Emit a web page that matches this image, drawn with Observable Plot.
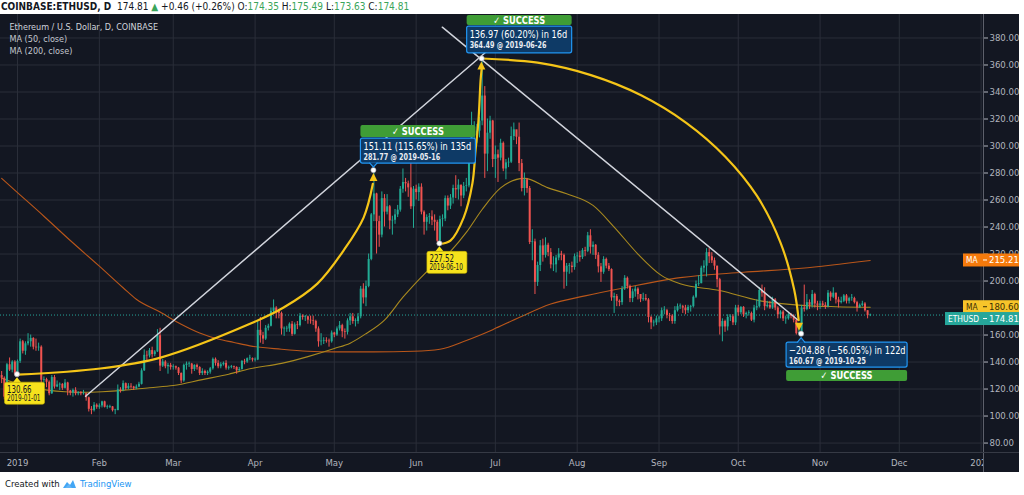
<!DOCTYPE html>
<html><head><meta charset="utf-8">
<script src="https://cdn.jsdelivr.net/npm/d3@7"></script>
<script src="https://cdn.jsdelivr.net/npm/@observablehq/plot@0.6"></script>
<style>
html,body{margin:0;padding:0;background:#fff;}
body{width:1024px;height:495px;overflow:hidden;font-family:"Liberation Sans Narrow","DejaVu Sans Condensed","Liberation Sans",sans-serif;}
#hdr{height:14px;font-size:10px;line-height:13px;color:#131722;white-space:nowrap;padding-left:1px;}
#hdr .g{color:#3aa55a}
#chart{height:458px;}
#chart svg{display:block}
#ftr{height:23px;font-size:9.5px;color:#131722;display:flex;align-items:center;padding-left:5px;white-space:nowrap}
#ftr .tv{color:#2196f3}
</style></head><body>
<div id="hdr"></div>
<div id="chart"></div>
<div id="ftr">Created with&nbsp;<svg width="15" height="10" viewBox="0 0 15 10"><path d="M1 9 L5 3 L8 6 L11 1 L14 9 Z" fill="#2196f3" opacity="0.85"/><path d="M3 9 L7 5 L10 9 Z" fill="#64b5f6"/></svg>&nbsp;<span class="tv">TradingView</span></div>
<script>
// ---------------- DATA ----------------
const symbol = "COINBASE:ETHUSD, D";
const firstOpen = 130;          // open of 2018-12-26
const startDay = -6;            // day index of first candle (0 = 2019-01-01)
// daily closes, 2018-12-26 .. 2019-11-20
const close = [
 128,114,138,134,140,131, // Dec
 140.5,155,148,153.5,155,157.5,151,150.5,151,126.5,127,125,116.5,128.5,121.5,123,123.5,120.5,124.5,118.5,117,119,116.5,117.5,116.5,116.5,113.5,105,104,108,106.5, // Jan
 107.5,110.5,106.5,106.5,106.8,104,104,119.5,119,124,120.3,122,121.5,120.3,121.5,123.5,133.5,145,144.5,148.5,145.5,147.5,159.5,137,140,136.5,137.5,136, // Feb
 136.5,135.5,131.5,126,137.5,138.5,138.5,134.5,137.5,136,131.5,133,131.5,132.5,135,142,139,136.5,138,139,135.5,136,136.5,136,133.5,134.5,140.5,140,142.5,142.5,141.5, // Mar
 141.5,163.5,159.5,157,165,166.5,177.5,180,177.5,176,164.5,164.5,164.5,168,160.5,167.5,167,174,173,173.5,171,170.5,170,164.5,155,155.5,156,155.5,155,161.5, // Apr
 160,164.5,167,162.5,162,170.5,173.5,170,170,173.5,194,187.5,196,216,249,264.5,244,234,261,251,255,244.5,245,249,252.5,268,273,272,269,255,268, // May
 265.5,269.5,251,243.5,247,247.5,245,243.5,229.5,245.5,246,261,255.5,261.5,268.5,267.5,271,263,270,270.5,294,307.5,308.5,311,318.5,337,294,309.5,318.5,290, // Jun
 293.5,291,302,283,287.5,288,307,312,306.5,287,268.5,275,268.5,228.5,229,199,211.5,226,219,226.5,221,212,212,217,220,219,206.5,211,211,210,218, // Jul
 218.5,217.5,222.5,222,233.5,225,226.5,219,210.5,206.5,216,211,208.5,187.5,188.5,185,184,194,202,196,187,192,194,190,186.5,187,186,173,169,169,172, // Aug
 172,178,178,174.5,174,170,178,181,181,180,178,180.5,181,188,197.5,198,209.5,211,221,218,215,211,201,166,170,166,173,173.5,169,180, // Sep
 176.5,180.5,175,176,176,171,180,181,193,191,181,182,180,186,180,175,177,172,172,175,174,171,161,161.5,180,179,184,182,190,183,182, // Oct
 183,182,181,191,188,191,186,184,185,189,185,187,187,184,180,182,183,178,174.35,174.81 // Nov
];
const high = [
 133,129,139,143,141,141,
 141.5,157,156,155,161,160,158,157,154,152,129,128,126,130,130,126,124.5,124,127,125,119,120,121,118,118,119,117,114,107,110,109,
 109,111,111,108,108,107,105,123,121,126,124.5,124,124,122,123,125,135,149,148,150,151,148.5,164,165,142,141,139,139,
 138,137,136,132,138.5,140,140,139,138,138.5,136.5,135,134,133.5,136,143,143,141,139.5,140,141,137,137.5,137,136.5,136,141,142,143,145,143,
 143,170,173,162,167,168,180,186,181,179,177,166,166.5,169,170,169,170,176,175,174.5,174,174,174,171,166,161,158,158,157,163,
 162,166,170,168,164.5,172,176,176,172,176,196,198,200,220,250,281.8,265,248,266,264,264,256,248,253,256,270,283,276,274,287,270,
 271,272,272,252,249,250,252,249,245,248,249,263,263,264,271,278,275,271,273,276,297,325,318,316,321,364.5,344,320,322,319,
 300,297,305,303,290,291,314,317,311,317,290,280,276,270,238,231,214,230,231,232,228,224,218,219,224,222,220,213,213,214,220,
 221,222,224,225,236,238,229,227,221,213,218,217,213,209,191,190,186,196,204,203,197,194,196,195,190,191,190,187,174,171,174,
 174,180,181,179,176,175,181,183,183,182,182,182,182,189,200,204,211,215,224,224,221,217,211,202,172,171,175,175,175,182,
 182,181,181,177,178,177,182,186,195,197,195,185,185,188,187,181,178,178,174,176,176,175,172,164,182,197,190,186,193,191,185,
 185,185,184,193,192,195,191,188,188,190,190,188,190,188,185,183,185,184,178,175.49
];
const low = [
 124,112,112,133,132,130,
 130.7,139,146,145,152,151,149,148,148,123,122,121,115,116,120,121,119,119,120,115,115,114,115,115,115,115.5,111,103,101,103,105,
 105,106,106,105,105.5,103,101,104,117,118,119,119.5,120,119,119.5,121,123,133,140,143,143,144,147,133,136,135,131,134,
 134,134,130,124,125,134,136,131,133,134,130,130,130,130,131,134,137,135,135,137,134,134,135,134.5,131,133,134,138,139,141,140,
 140,141,154,153,156,163,166,176,172,172,160,159,162,162,159,160,164,166,171,170,168,168,167,162,151,152,153,154,151,154,
 158,159,163,158,157,160,167,168,166,168,172,183,181,195,215,244,220,225,232,240,249,238,234,242,247,251,265,266,262,253,239,
 260,259,249,234,237,242,241,237,228.5,227.5,240,244,252,253,257,261,260,255,261,266,269,288,300,302,306,315,276,281,305,284,
 276,273,289,281,275,284,287,304,301,281,266,263,265,227,215,190,196,207,214,217,218,209,207,206,215,215,194,196,205,206,208,
 213,214,216,218,221,220,219,216,206,199,205,209,207,185,176,181,181,182,193,194,184,184,188,186,184,185,185,169,164,166,167,
 169,170,175,172,170,168,168,177,179,176,175,176,177,180,187,196,198,206,203,213,213,208,195,160,155,162,163,170,167,167,
 174,175,173,172,174,170,169,178,180,188,178,180,179,179,178,172,172,170,168,171,172,169,160,160.8,160.67,177,178,179,180,180,178,
 179,181,179,180,185,187,183,180,183,184,183,183,185,183,177,180,181,177,172,173.63
];
// moving averages (day index, value)
const ma50Days = [-6,0,6,12,18,25,32,40,50,59,70,80,88,100,110,120,126,132,139,146,154,164,170,176,183,192,201,208,218,226,235,244,251,266,281,297,310,323];
const ma50Vals = [128,124,121,119,118,117.6,118,119,121,122.6,127,131,135,139,144,150,154,161,171,188,205,222,236,253,269,276,269,264.6,256,240,220,204,198,193,185.5,182,181,180.6];
const ma200Days = [-6,0,10,20,31,40,45,54,62,69,76,82,88,100,110,120,135,150,160,170,180,190,202,215,230,251,275,297,323];
const ma200Vals = [276,265.5,248,230,211,195,186.5,177,168,161.5,157,154.5,152,149.5,148,147.5,147.5,148,149.5,156,164,173,183,189,195,202.5,206.5,209.5,215.2];
const ma50Last = 180.60, ma200Last = 215.21, lastPrice = 174.81;
// axes
const priceTicks = [80,100,120,140,160,180,200,220,240,260,280,300,320,340,360,380];
const monthDays = [0,31,59,90,120,151,181,212,243,273,304,334,365];
const monthLabels = ["2019","Feb","Mar","Apr","May","Jun","Jul","Aug","Sep","Oct","Nov","Dec","2020"];
// drawings (day index, price)
const trendA = {days:[25.8,180.3], prices:[114.7,374.4]};
const trendB = {days:[160.9,295.5], prices:[388,171.3]};
const curve1 = {days:[0,31.4,54.2,88.3,100.8,113.6,123.5,131.1,134.6], prices:[130.66,135.2,143.3,168.5,180.4,198.1,222.6,247,272]};
const curve2 = {days:[160,164,169,172.3,173.5,174.6,175.4,175.8], prices:[227.52,230,247,272.2,296.7,318.9,348.5,357]};
const curve3 = {days:[176.1,197.0,217.2,236.2,253.3,268.1,280.1,289.0,294.2,295.9], prices:[364.8,361.7,352.5,337.6,317.2,292.1,263.0,228.5,193.5,171]};
const pivotDays = [0,135,160,176,297];
const pivotPrices = [130.66,281.77,227.52,364.49,160.67];
const pivotDates = ["2019-01-01","2019-05-16","2019-06-10","2019-06-26","2019-10-25"];
const moveText = ["151.11 (115.65%) in 135d","136.97 (60.20%) in 16d","\u2212204.88 (\u221256.05%) in 122d"];

// ---------------- HEADER ----------------
const n = close.length;
const lastO = close[n-2], lastC = close[n-1], lastH = high[n-1], lastL = low[n-1];
const chg = lastC - lastO;
document.getElementById("hdr").innerHTML =
  `<b>${symbol}</b>&nbsp; ${lastC.toFixed(2)} <span class="g">\u25B2</span> +${chg.toFixed(2)} (+${(chg/lastO*100).toFixed(2)}%) ` +
  `O:<span class="g">${lastO.toFixed(2)}</span> H:<span class="g">${lastH.toFixed(2)}</span> L:<span class="g">${lastL.toFixed(2)}</span> C:<span class="g">${lastC.toFixed(2)}</span>`;

// ---------------- TABLES ----------------
const candles = close.map((c, i) => ({day: startDay + i, o: i ? close[i-1] : firstOpen, h: high[i], l: low[i], c}));
const UP = "#22ab94", DOWN = "#f05350";
candles.forEach(d => { d.col = d.c >= d.o ? UP : DOWN; d.c2 = Math.abs(d.c - d.o) < 0.5 ? d.o + 0.5 : d.c; });
const pts = (days, vals) => days.map((d, i) => ({day: d, v: vals[i]}));
const ma50 = pts(ma50Days, ma50Vals), ma200 = pts(ma200Days, ma200Vals);
const tA = pts(trendA.days, trendA.prices), tB = pts(trendB.days, trendB.prices);
const c1 = pts(curve1.days, curve1.prices), c2 = pts(curve2.days, curve2.prices), c3 = pts(curve3.days, curve3.prices);
const pivots = pts(pivotDays, pivotPrices);

const FONT = '"Liberation Sans Narrow","DejaVu Sans Condensed","Liberation Sans",sans-serif';
const GRID = "#2a2e39", YEL = "#f5c518";
const W = 1019, H = 458, MR = 36, MB = 20;

const chart = Plot.plot({
  width: W, height: H,
  marginLeft: 0, marginRight: MR, marginTop: 0, marginBottom: MB,
  style: {background: "#131722", color: "#b2b5be", fontFamily: FONT, fontSize: "9.5px"},
  x: {domain: [-6.44, 365.9], ticks: monthDays, tickFormat: d => monthLabels[monthDays.indexOf(d)], tickSize: 0, tickPadding: 7, label: null},
  y: {domain: [73.0, 397.4], axis: "right", ticks: priceTicks, tickFormat: d => d.toFixed(2), tickSize: 4, tickPadding: 2, label: null},
  marks: [
    Plot.ruleY(priceTicks, {stroke: GRID, strokeWidth: 1}),
    Plot.ruleX(monthDays, {stroke: GRID, strokeWidth: 1}),
    Plot.line(ma200, {x: "day", y: "v", stroke: "#b9561a", strokeWidth: 1.1, curve: "monotone-x"}),
    Plot.line(ma50, {x: "day", y: "v", stroke: "#a8891f", strokeWidth: 1.1, curve: "monotone-x"}),
    Plot.ruleY([lastPrice], {stroke: "#26a69a", strokeWidth: 1, strokeDasharray: "1,2"}),
    Plot.ruleX(candles, {x: "day", y1: "l", y2: "h", stroke: "col", strokeWidth: 1}),
    Plot.ruleX(candles, {x: "day", y1: "o", y2: "c2", stroke: "col", strokeWidth: 2}),
    Plot.line(tA, {x: "day", y: "v", stroke: "#d1d4dc", strokeWidth: 1.5}),
    Plot.line(tB, {x: "day", y: "v", stroke: "#d1d4dc", strokeWidth: 1.5}),
    Plot.line(c1, {x: "day", y: "v", stroke: YEL, strokeWidth: 2.2, curve: "catmull-rom"}),
    Plot.line(c2, {x: "day", y: "v", stroke: YEL, strokeWidth: 2.2, curve: "catmull-rom"}),
    Plot.line(c3, {x: "day", y: "v", stroke: YEL, strokeWidth: 2.2, curve: "catmull-rom"}),
    Plot.text(["Ethereum / U.S. Dollar, D, COINBASE"], {frameAnchor: "top-left", lineAnchor: "middle", textAnchor: "start", dx: 9, dy: 12.7, fill: "#d1d4dc", fontSize: 9}),
    Plot.text(["MA (50, close)"], {frameAnchor: "top-left", lineAnchor: "middle", textAnchor: "start", dx: 9, dy: 25, fill: "#c3c6ce", fontSize: 9}),
    Plot.text(["MA (200, close)"], {frameAnchor: "top-left", lineAnchor: "middle", textAnchor: "start", dx: 9, dy: 37, fill: "#c3c6ce", fontSize: 9})
  ]
});
document.getElementById("chart").appendChild(chart);

// ---------------- OVERLAYS (positions via Plot scales) ----------------
const sx = chart.scale("x"), sy = chart.scale("y");
const X = sx.apply ? v => sx.apply(v) : d3.scaleLinear(sx.domain, sx.range);
const Y = sy.apply ? v => sy.apply(v) : d3.scaleLinear(sy.domain, sy.range);
const svg = d3.select(chart);
const PR = W - MR, PB = H - MB;
// condense a text to a fraction of its natural width (the chart uses a narrow face)
function squeeze(sel, k) {
  const node = sel.node();
  const L = node.getComputedTextLength();
  if (L > 0) sel.attr("textLength", (L * k).toFixed(1)).attr("lengthAdjust", "spacingAndGlyphs");
  return sel;
}
// hide label overflow below the price scale, draw borders
svg.append("rect").attr("x", PR).attr("y", PB + 0.5).attr("width", MR).attr("height", MB).attr("fill", "#131722");
svg.append("line").attr("x1", PR + 0.5).attr("x2", PR + 0.5).attr("y1", 0).attr("y2", H).attr("stroke", "#5d606b");
svg.append("line").attr("x1", 0).attr("x2", W).attr("y1", PB + 0.5).attr("y2", PB + 0.5).attr("stroke", "#363a45");

// arrow heads
function tri(x, y, dir) { // tip at (x,y); dir -1 = up, +1 = down
  const h = 8 * -dir, w = 4;
  svg.append("path").attr("d", `M${x},${y} L${x - w},${y + h} L${x + w},${y + h} Z`).attr("fill", YEL);
}
tri(X(135), Y(281.77) + 3, -1);
tri(X(175.9), Y(364.49) + 3, -1);
tri(X(296.2), Y(160.67) - 3, 1);

// pivot dots
pivots.forEach(p => svg.append("circle").attr("cx", X(p.day)).attr("cy", Y(p.v)).attr("r", 2.6).attr("fill", "#fff").attr("stroke", "#9598a1").attr("stroke-width", 0.6));

// price tags on the scale
function tag(y, x0, bg, fg, name, val) {
  const g = svg.append("g").attr("font-family", FONT).attr("font-size", 9.5).attr("text-anchor", "start");
  g.append("rect").attr("x", x0).attr("y", y - 6.5).attr("width", W - x0).attr("height", 13).attr("fill", bg);
  squeeze(g.append("text").attr("x", x0 + 3).attr("y", y).attr("dy", "0.35em").attr("fill", fg).text(name), 0.88);
  g.append("line").attr("x1", PR).attr("x2", PR + 4).attr("y1", y).attr("y2", y).attr("stroke", fg);
  g.append("text").attr("x", PR + 6).attr("y", y).attr("dy", "0.35em").attr("fill", fg).text(val.toFixed(2));
}
tag(Y(ma200Last), 963, "#f57a0c", "#fff", "MA", ma200Last);
tag(Y(ma50Last), 963, "#f7c42a", "#3a2e05", "MA", ma50Last);
tag(Y(lastPrice) + 4, 945, "#26a69a", "#fff", "ETHUSD", lastPrice);

// success annotations
function success(i, k, o) {
  const ax = X(pivotDays[i]), ay = Y(pivotPrices[i]);
  const g = svg.append("g").attr("font-family", FONT).attr("text-anchor", "start");
  const x0 = ax + o.x0, w = o.x1 - o.x0;
  g.append("rect").attr("x", x0).attr("y", ay + o.g0).attr("width", w).attr("height", o.g1 - o.g0).attr("rx", 2).attr("fill", "#3f9d36");
  squeeze(g.append("text").attr("x", x0 + w / 2).attr("y", ay + (o.g0 + o.g1) / 2).attr("dy", "0.36em").attr("text-anchor", "middle")
    .attr("fill", "#fff").attr("font-weight", "bold").attr("font-size", 10.5).text("\u2713 SUCCESS"), 0.88);
  g.append("rect").attr("x", x0).attr("y", ay + o.b0).attr("width", w).attr("height", o.b1 - o.b0).attr("rx", 2)
    .attr("fill", "#0e3a66").attr("stroke", "#2196f3").attr("stroke-width", 1.2);
  if (o.ptr) g.append("path").attr("d", o.ptr(ax, ay)).attr("fill", "#0e3a66").attr("stroke", "#2196f3").attr("stroke-width", 1.2);
  squeeze(g.append("text").attr("x", x0 + 3).attr("y", ay + o.b0 + 8).attr("dy", "0.35em").attr("fill", "#fff").attr("font-size", 10.5).text(moveText[k]), 0.87);
  squeeze(g.append("text").attr("x", x0 + 3).attr("y", ay + o.b0 + 18.5).attr("dy", "0.35em").attr("fill", "#e8ecf2").attr("font-size", 8.5).attr("font-weight", "bold")
    .text(`${pivotPrices[i].toFixed(2)} @ ${pivotDates[i]}`), 0.84);
}
success(1, 0, {x0: -13, x1: 102, g0: -45, g1: -33, b0: -32, b1: -7,
  ptr: (x, y) => `M${x - 4},${y - 7.6} L${x},${y - 3} L${x + 4},${y - 7.6}`});
success(3, 1, {x0: -15, x1: 90, g0: -43.4, g1: -33.4, b0: -32.4, b1: -5.6});
success(4, 2, {x0: -15, x1: 106, g0: 36.4, g1: 47.4, b0: 8.4, b1: 33.4,
  ptr: (x, y) => `M${x - 4},${y + 9} L${x},${y + 4} L${x + 4},${y + 9}`});

// yellow price labels
function ylabel(i) {
  const ax = X(pivotDays[i]), ay = Y(pivotPrices[i]);
  const g = svg.append("g").attr("font-family", FONT).attr("text-anchor", "start");
  g.append("path").attr("d", `M${ax},${ay + 3} L${ax - 4},${ay + 8} L${ax + 4},${ay + 8} Z`).attr("fill", "#f6e21c");
  g.append("rect").attr("x", ax - 12.5).attr("y", ay + 8).attr("width", 40).attr("height", 22).attr("rx", 2)
    .attr("fill", "#f6e21c").attr("stroke", "#c9b300").attr("stroke-width", 0.6);
  squeeze(g.append("text").attr("x", ax - 10).attr("y", ay + 15).attr("dy", "0.35em").attr("fill", "#131722").attr("font-size", 10).text(pivotPrices[i].toFixed(2)), 0.78);
  squeeze(g.append("text").attr("x", ax - 10).attr("y", ay + 24).attr("dy", "0.35em").attr("fill", "#131722").attr("font-size", 8).text(pivotDates[i]), 0.8);
}
ylabel(0);
ylabel(2);
</script>
</body></html>
